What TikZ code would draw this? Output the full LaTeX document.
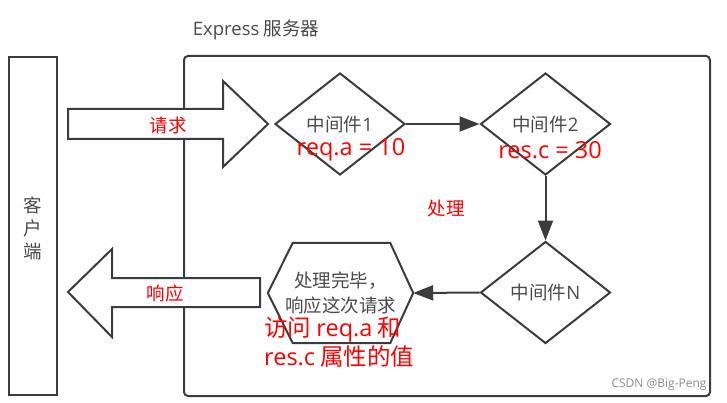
\documentclass[tikz,border=0pt]{standalone}
\usepackage{fontspec}
\setmainfont{Noto Sans CJK SC}
\newfontfamily\lat{Open Sans}
\usetikzlibrary{arrows.meta,shapes.geometric}
\definecolor{ink}{HTML}{3C3C3C}
\definecolor{txt}{HTML}{4A4A4A}
\definecolor{note}{HTML}{FF0000}
\definecolor{mark}{HTML}{8C8C8C}
\tikzset{
  frame/.style={draw=ink,line width=2pt},
  bigarrow/.style={draw=ink,line width=2pt,fill=white,line join=miter},
  mw/.style={diamond,draw=ink,line width=2pt,minimum width=130pt,minimum height=102pt,
             inner sep=0pt,text=txt,font=\fontsize{18.5}{22}\selectfont},
  flow/.style={draw=ink,line width=2pt,-{Triangle[length=20pt,width=15pt]}},
  lbl/.style={text=txt,font=\fontsize{18.5}{22}\selectfont,inner sep=0pt},
  redbig/.style={text=note,font=\fontsize{23.5}{29}\selectfont,inner sep=0pt},
  redsmall/.style={text=note,font=\fontsize{18.5}{22}\selectfont,inner sep=0pt},
}
\begin{document}
\begin{tikzpicture}[x=1pt,y=-1pt]
\useasboundingbox (0,0) rectangle (727,403);

% title
\node[lbl] (title) at (256,30) {{\lat Express} 服务器};

% client column
\draw[frame] (9,57) rectangle (57,395);
\node[lbl,align=center,font=\fontsize{18.5}{23}\selectfont] (client) at (33,228) {客\\户\\端};

% server frame
\draw[frame,rounded corners=4pt] (184,56) rectangle (710,396);

% request arrow (client -> server)
\draw[bigarrow] (68,109) -- (223,109) -- (223,81) -- (268,124) -- (223,167)
  -- (223,139) -- (68,139) -- cycle;
\node[redsmall] (req) at (168,125) {请求};

% response arrow (server -> client)
\draw[bigarrow] (260,278) -- (112,278) -- (112,249) -- (68,292) -- (112,337)
  -- (112,307) -- (260,307) -- cycle;
\node[redsmall] (resp) at (165,293) {响应};

% middleware chain
\node[mw] (m1) at (340,124) {中间件{\lat 1}};
\node[mw] (m2) at (545.5,124) {中间件{\lat 2}};
\node[mw] (mn) at (545.5,292.5) {中间件{\lat N}};

% finishing step
\node[lbl,minimum width=145pt,minimum height=100pt,align=center,
      font=\fontsize{18.5}{25}\selectfont] (done) at (340.5,293) {处理完毕，\\响应这次请求};
\draw[frame,line join=miter] (done.west) -- ([xshift=25pt]done.north west)
  -- ([xshift=-23pt]done.north east) -- (done.east)
  -- ([xshift=-23pt]done.south east) -- ([xshift=25pt]done.south west) -- cycle;

\draw[flow] (m1.east) -- (m2.west);
\draw[flow] (m2.south) -- (mn.north);
\draw[flow] (mn.west) -- (done.east);

% annotations
\node[redbig] (a1) at (351,150) {\lat req.a = 10};
\node[redbig] (a2) at (550,150) {\lat res.c = 30};
\node[redsmall] (proc) at (446,208) {处理};
\node[redbig,anchor=west,align=left] (a3) at (264,342) {访问 {\lat req.a} 和\\{\lat res.c} 属性的值};

% watermark
\node[text=mark,font=\lat\fontsize{12}{15}\selectfont,inner sep=0pt] (wm) at (659,385) {CSDN @Big-Peng};
\end{tikzpicture}
\end{document}
